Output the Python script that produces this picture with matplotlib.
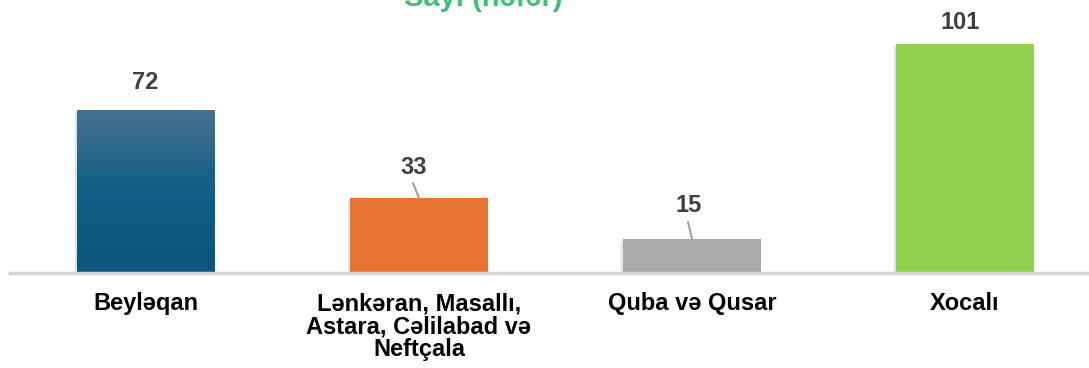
import matplotlib.pyplot as plt
import matplotlib.patheffects as pe
from matplotlib.colors import LinearSegmentedColormap
import numpy as np

plt.rcParams['font.family'] = ['Liberation Sans', 'DejaVu Sans']

# Verilər
categories = ['Beyləqan', 'Lənkəran, Masallı,\nAstara, Cəlilabad və\nNeftçala',
              'Quba və Qusar', 'Xocalı']
values = [72, 33, 15, 101]
colors = ['#15628a', '#e87232', '#aaaaaa', '#92d050']
title = 'Sayı (nəfər)'

fig = plt.figure(figsize=(10.89, 3.68), dpi=100)
ax = fig.add_axes([9.5 / 1089, (368 - 273) / 368, 1092 / 1089, 272 / 368])

x = np.arange(len(categories))
shadow = [pe.SimplePatchShadow(offset=(-1.5, -1.5), shadow_rgbFace='#888888', alpha=0.25), pe.Normal()]
bars = ax.bar(x, values, width=0.505, color=colors, zorder=3, path_effects=shadow)

# birinci sütun üçün şaquli gradient
grad = LinearSegmentedColormap.from_list('g', ['#0b5679', '#0f5f86', '#47718f'])
b0 = bars[0]
img = ax.imshow(np.linspace(0, 1, 100).reshape(-1, 1), cmap=grad, aspect='auto', origin='lower',
                extent=[b0.get_x(), b0.get_x() + b0.get_width(), 0, b0.get_height()], zorder=4)
img.set_clip_path(b0)

ax.set_xlim(-0.5, 3.5)
ax.set_ylim(0, 120)

# dəyər etiketləri
offsets = [(-1, 27), (-5, 31), (-3, 33), (-5, 22)]
for i, v in enumerate(values):
    ax.annotate(str(v), xy=(x[i], v), xytext=offsets[i], textcoords='offset pixels',
                ha='center', va='center', fontsize=17, fontweight='bold', color='#404040')

# kiçik sütunlar üçün xətlər
for i in (1, 2):
    ax.annotate('', xy=(x[i], values[i]), xytext=(offsets[i][0] - 1, offsets[i][1] - 16),
                textcoords='offset pixels',
                arrowprops=dict(arrowstyle='-', color='#a0a0a0', lw=1.5, shrinkA=0, shrinkB=0))

ax.set_xticks(x)
ax.set_xticklabels(categories, fontsize=17, fontweight='bold', color='black', linespacing=1.0)
ax.tick_params(axis='x', length=0, pad=14)
ax.set_yticks([])
for s in ['top', 'right', 'left']:
    ax.spines[s].set_visible(False)
ax.spines['bottom'].set_color('#d4d4d4')
ax.spines['bottom'].set_linewidth(2.5)
ax.spines['bottom'].set_zorder(5)

fig.text(483 / 1089, 1 - 6 / 368, title, ha='center', va='baseline', fontsize=21,
         fontweight='bold', color='#3dbf76')

fig.savefig('out.png', dpi=100)
